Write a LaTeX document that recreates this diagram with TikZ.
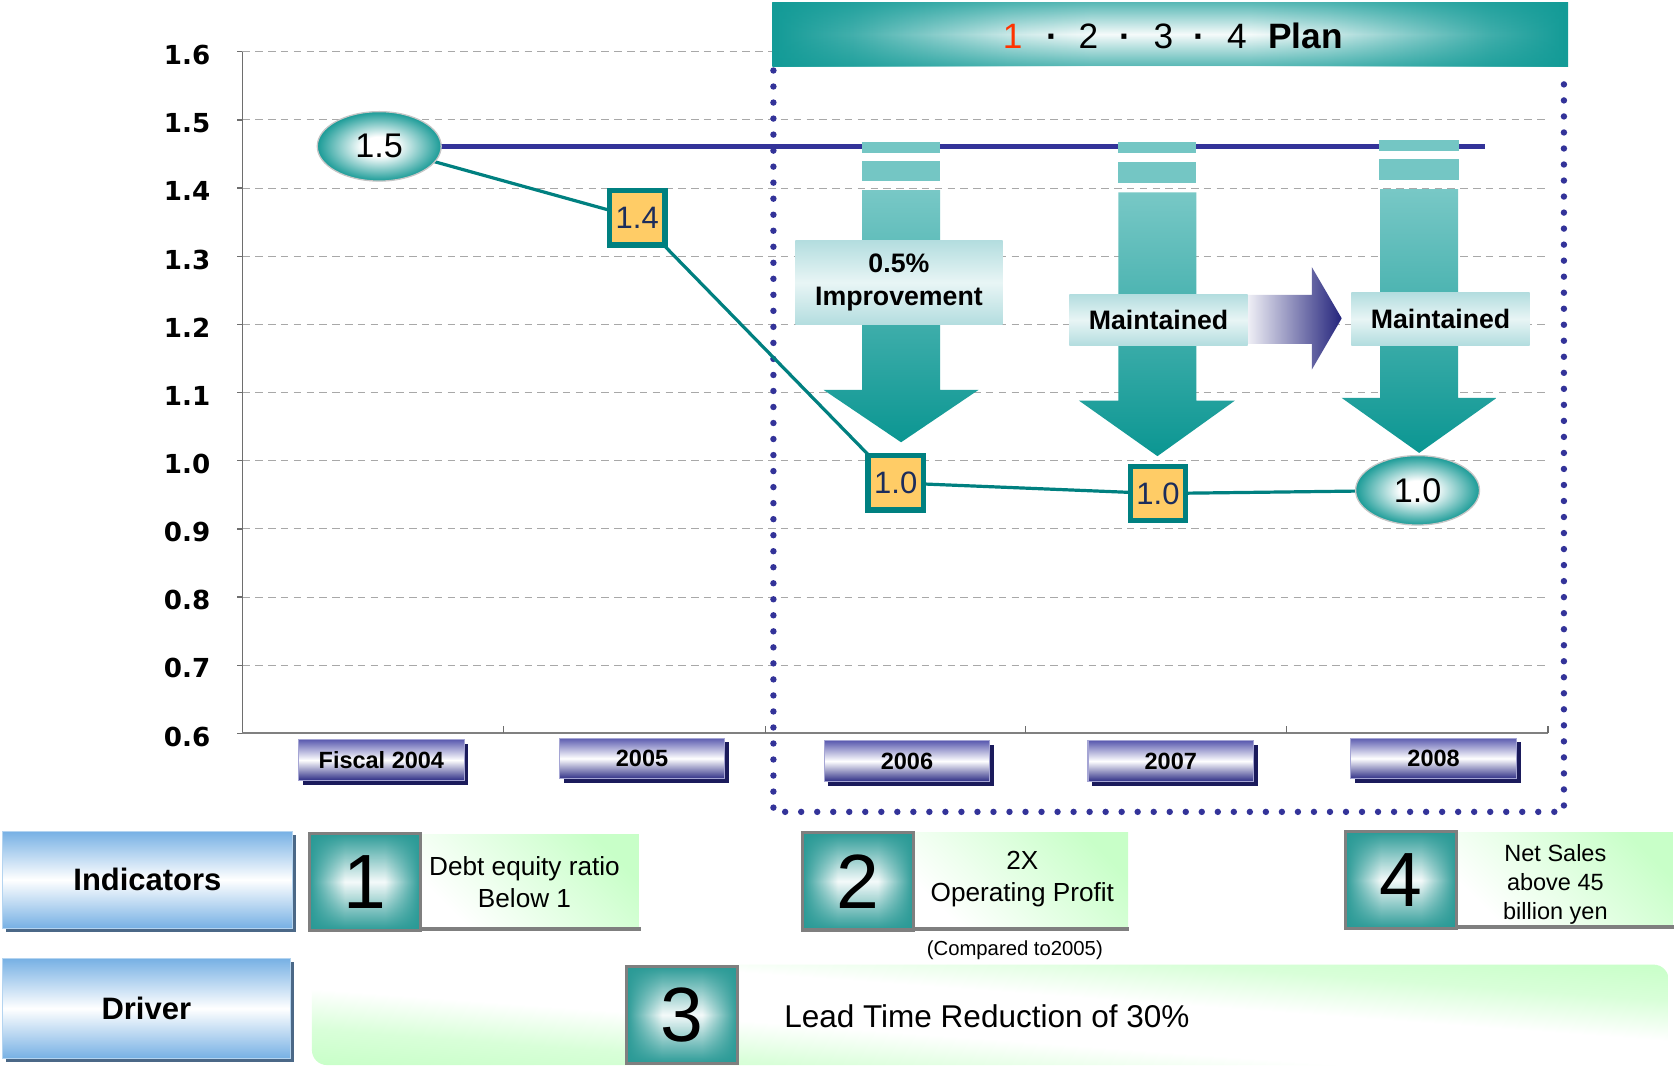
\documentclass[tikz,border=0pt]{standalone}
\usepackage{fontspec}
\setmainfont{Liberation Sans}
\newfontfamily\axisfont{DejaVu Sans}
\usetikzlibrary{shapes.geometric,shadows,fadings}
\newcommand\setfs[2]{\fontsize{#1}{#2}\selectfont}

% palette
\definecolor{gridgray}{HTML}{A8A8A8}
\definecolor{axisgray}{HTML}{6E6E6E}
\definecolor{planblue}{HTML}{333399}
\definecolor{datateal}{HTML}{008080}
\definecolor{markteal}{HTML}{1A9B97}
\definecolor{markfill}{HTML}{FFCC66}
\definecolor{marknavy}{HTML}{1C2D5C}
\definecolor{arrtop}{HTML}{78C8C6}
\definecolor{arrbot}{HTML}{0B9692}
\definecolor{bandteal}{HTML}{74C6C4}
\definecolor{lbledge}{HTML}{B3DDDF}
\definecolor{lblmid}{HTML}{E8F5F5}
\definecolor{navyarrow}{HTML}{24247C}
\definecolor{bteal}{HTML}{139B97}
\definecolor{titlered}{HTML}{FF3300}
\definecolor{yrtop}{HTML}{5C5CB0}
\definecolor{yrbot}{HTML}{2E2E86}
\definecolor{yrshadow}{HTML}{1B1B5C}
\definecolor{indblue}{HTML}{76B0E4}
\definecolor{indshadow}{HTML}{4B6887}
\definecolor{sqteal}{HTML}{2A9A96}
\definecolor{sqgray}{HTML}{7F7F7F}
\definecolor{greenp}{HTML}{C8FFC8}

% shadings
\pgfdeclareradialshading{markshade}{\pgfpoint{0bp}{0bp}}{color(0bp)=(white); color(7bp)=(white); color(25bp)=(markteal); color(50bp)=(markteal)}
\pgfdeclarehorizontalshading{squareh}{100bp}{color(0bp)=(sqteal); color(25bp)=(sqteal); color(41bp)=(white!95!sqteal); color(59bp)=(white!95!sqteal); color(75bp)=(sqteal); color(100bp)=(sqteal)}
\tikzfading[name=squarev, top color=transparent!0, bottom color=transparent!0, middle color=transparent!100]
\pgfdeclarehorizontalshading{bannerh}{100bp}{color(0bp)=(bteal); color(25bp)=(bteal); color(30bp)=(bteal!80!white); color(40bp)=(bteal!22!white); color(45bp)=(white!96!bteal); color(55bp)=(white!96!bteal); color(60bp)=(bteal!22!white); color(70bp)=(bteal!80!white); color(75bp)=(bteal); color(100bp)=(bteal)}
\tikzfading[name=bannerv, top color=transparent!30, bottom color=transparent!30, middle color=transparent!100]
% green at two opposite corners, white along the other diagonal
\pgfdeclareverticalshading{diagpanel}{100bp}{color(0bp)=(greenp); color(25bp)=(greenp); color(34bp)=(greenp!70!white); color(44bp)=(white); color(56bp)=(white); color(66bp)=(greenp!70!white); color(75bp)=(greenp); color(100bp)=(greenp)}

\pgfdeclarelayer{marks}
\pgfsetlayers{main,marks}

\begin{document}
\begin{tikzpicture}[x=1pt,y=-1pt,
  every node/.style={inner sep=0pt},
  gridline/.style={draw=gridgray, line width=1pt, dash pattern=on 7pt off 5pt},
  axisline/.style={draw=axisgray, line width=1.2pt},
  ylabel/.style={anchor=east, font=\axisfont\bfseries\setfs{24.5}{28}},
  dotframe/.style={draw=planblue, line width=6pt, line cap=round, dash pattern=on 0pt off 15pt},
  planline/.style={draw=planblue, line width=5pt},
  dataline/.style={draw=datateal, line width=3pt},
  teardrop/.style={top color=arrtop, bottom color=arrbot},
  lblbox/.style={shade, top color=lbledge, bottom color=lbledge, middle color=lblmid, align=center, font=\bfseries\setfs{25}{31}},
  ellmark/.style={ellipse, shade, shading=markshade, draw=gray!45, line width=1.2pt, minimum width=116pt, minimum height=65pt, font=\setfs{32}{36}},
  boxmark/.style={rectangle, fill=markfill, draw=datateal, line width=5pt, minimum width=52pt, minimum height=51pt, text=marknavy, font=\setfs{29}{32}},
  titlechar/.style={anchor=base, font=\setfs{33}{36}},
  yearbox/.style={shade, top color=yrtop, bottom color=yrbot, middle color=white, draw=yrtop!55!white, line width=1pt, minimum width=155pt, minimum height=38pt, font=\bfseries\setfs{22}{26},
    drop shadow={shadow xshift=4pt, shadow yshift=-4pt, fill=yrshadow, opacity=1}},
  rowbox/.style={shade, top color=indblue, bottom color=indblue, middle color=white, draw=indblue!55!white, line width=1pt, font=\bfseries\setfs{29}{34},
    drop shadow={shadow xshift=3.5pt, shadow yshift=-3.5pt, fill=indshadow, opacity=1}},
  numsq/.style={rectangle, shade, shading=squareh, minimum width=104pt, minimum height=91pt, font=\setfs{72}{76},
    postaction={fill=sqteal, path fading=squarev},
    postaction={draw=sqgray, line width=3pt}},
  greenpanel/.style={rectangle, shade, top color=greenp, bottom color=white, shading angle=-45},
  paneltext/.style={align=center, font=\setfs{24.5}{30}}
]
\useasboundingbox (0,0) rectangle (1568,998);
\fill[white] (0,0) rectangle (1568,998);

% grid and axes
\foreach \k in {0,...,9}{\draw[gridline] (227,{48.5+63.8*\k}) -- (1449,{48.5+63.8*\k});}
\foreach \k in {0,...,10}{\draw[axisline] (222,{48.5+63.8*\k}) -- (227,{48.5+63.8*\k});}
\draw[axisline] (227,48.5) -- (227,686.5);
\draw[axisline, draw=gray, line width=2pt] (227,686.5) -- (1449,686.5);
\foreach \x in {471,716.5,960,1204,1449}{\draw[axisline] (\x,686.5) -- (\x,680);}
\foreach \v [count=\k from 0] in {1.6,1.5,1.4,1.3,1.2,1.1,1.0,0.9,0.8,0.7,0.6}{
  \node[ylabel] (ylab\k) at (197,{51.5+63.8*\k}) {\v};}

% plan frame
\draw[dotframe] (724,66) -- (724,760) -- (1464,760) -- (1464,66);

% data markers
\begin{pgfonlayer}{marks}
\node[ellmark] (v04) at (355,137) {1.5};
\node[boxmark] (v05) at (596.5,204) {1.4};
\node[boxmark] (v06) at (838.5,452) {1.0};
\node[boxmark] (v07) at (1084,462) {1.0};
\node[ellmark] (v08) at (1327,459) {1.0};
\end{pgfonlayer}

% reference line at 1.5
\coordinate (planend) at (1390,137);
\draw[planline] (v04.center) -- (planend);

% teal down arrows
\fill[bandteal] (807,133) rectangle (880,143);
\fill[bandteal] (807,151) rectangle (880,169);
\shade[teardrop] (807,178) -- (880,178) -- (880,365) -- (916,365) -- (843.5,414) -- (771,365) -- (807,365) -- cycle;
\fill[bandteal] (1047,133) rectangle (1120,143);
\fill[bandteal] (1047,152) rectangle (1120,171);
\shade[teardrop] (1047,180) -- (1120,180) -- (1120,375) -- (1156,375) -- (1083.5,427) -- (1010,375) -- (1047,375) -- cycle;
\fill[bandteal] (1291,131) rectangle (1366,141);
\fill[bandteal] (1291,149) rectangle (1366,168.5);
\shade[teardrop] (1292,177) -- (1365,177) -- (1365,372.5) -- (1401,372.5) -- (1328.5,424) -- (1256,372.5) -- (1292,372.5) -- cycle;

% sideways arrow between the two "Maintained" labels
\shade[left color=white!95!navyarrow, right color=navyarrow] (1166,276) -- (1228,276) -- (1228,250) -- (1256,298) -- (1228,346) -- (1228,322) -- (1166,322) -- cycle;

% arrow labels
\node[lblbox, minimum width=194pt, minimum height=79pt] (imp06) at (841.5,264.5) {0.5\%\\Improvement};
\node[lblbox, minimum width=167pt, minimum height=48pt] (keep07) at (1084.5,299.5) {Maintained};
\node[lblbox, minimum width=167pt, minimum height=49pt] (keep08) at (1348.5,298.5) {Maintained};

% ratio line
\draw[dataline] (v04.center) -- (v05.center) -- (v06.center) -- (v07.center) -- (v08.center);

% plan banner
\shade[shading=bannerh] (723,2) rectangle (1468,62);
\fill[bteal, path fading=bannerv] (723,2) rectangle (1468,62);
\node[titlechar, text=titlered] (ttl1) at (948,45.5) {1};
\node[titlechar] (ttldot1) at (985,45.5) {\bfseries ·};
\node[titlechar] (ttl2) at (1019,45.5) {2};
\node[titlechar] (ttldot2) at (1053,45.5) {\bfseries ·};
\node[titlechar] (ttl3) at (1089,45.5) {3};
\node[titlechar] (ttldot3) at (1123,45.5) {\bfseries ·};
\node[titlechar] (ttl4) at (1158,45.5) {4};
\node[titlechar] (ttlplan) at (1222,45.5) {\bfseries Plan};

% fiscal years
\node[yearbox] (yr04) at (357,711.5) {Fiscal 2004};
\node[yearbox] (yr05) at (601,710) {2005};
\node[yearbox] (yr06) at (849,712.5) {2006};
\node[yearbox] (yr07) at (1096,712.5) {2007};
\node[yearbox] (yr08) at (1342,710) {2008};

% indicator row
\node[rowbox, minimum width=272pt, minimum height=91pt] (rowind) at (138,823.5) {Indicators};
\node[greenpanel, minimum width=203pt, minimum height=87pt] (pan1) at (496.5,824.5) {};
\draw[draw=sqgray, line width=4pt] (395,869.5) -- (600,869.5);
\node[numsq] (sq1) at (341.5,825.5) {1};
\node[paneltext] (txt1) at (491,826) {Debt equity ratio\\Below 1};

\node[greenpanel, minimum width=200pt, minimum height=89pt] (pan2) at (956,823.5) {};
\draw[draw=sqgray, line width=4pt] (856,869.5) -- (1057,869.5);
\node[numsq] (sq2) at (803,825) {2};
\node[paneltext] (txt2) at (957,822.5) {2X\\Operating Profit};
\node[font=\setfs{19}{22}] (cmp) at (950,890) {(Compared to2005)};

\node[greenpanel, minimum width=203pt, minimum height=87pt] (pan4) at (1464.5,822.5) {};
\draw[draw=sqgray, line width=4pt] (1363,868) -- (1567,868);
\node[numsq] (sq4) at (1311.5,824) {4};
\node[paneltext, font=\setfs{22}{27}] (txt4) at (1456,828) {Net Sales\\above 45\\billion yen};

% driver row
\node[rowbox, minimum width=270pt, minimum height=94pt] (rowdrv) at (137,944) {Driver};
\begin{scope}
  \clip[rounded corners=14pt] (292,903) rectangle (1562,997);
  % slanted canvas so the colour bands follow the panel's diagonal
  \begin{scope}[transform canvas={shift={(927,950)}, xscale=12.7, yscale=0.94, yslant=-1}]
    \shade[shading=diagpanel] (-50,-100) rectangle (50,100);
  \end{scope}
\end{scope}
\node[numsq, minimum height=91pt] (sq3) at (638.5,950) {3};
\node[anchor=west, font=\setfs{29.5}{34}] (txt3) at (734,951) {Lead Time Reduction of 30\%};
\end{tikzpicture}
\end{document}
